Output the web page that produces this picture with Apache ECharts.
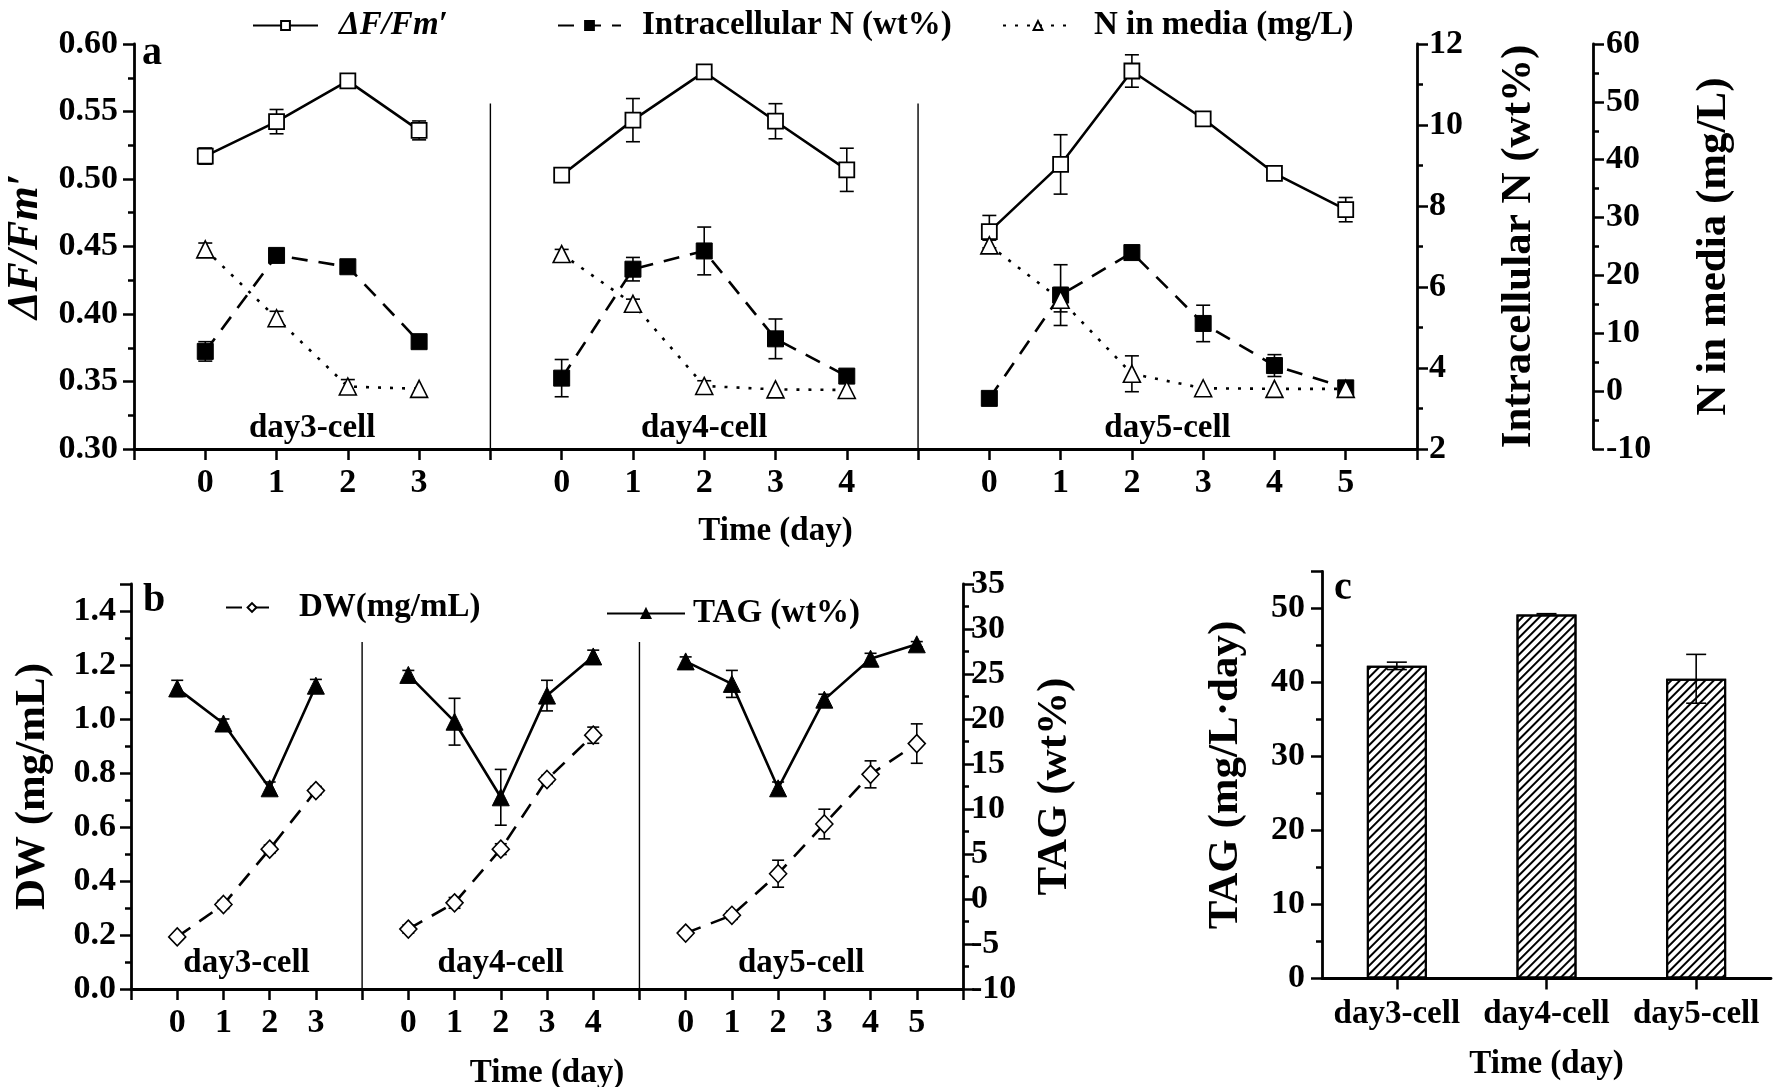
<!DOCTYPE html>
<html>
<head>
<meta charset="utf-8">
<title>Nitrogen, ΔF/Fm′, DW and TAG</title>
<script src="https://cdn.jsdelivr.net/npm/echarts@6/dist/echarts.min.js"></script>
<style>
html, body { margin: 0; padding: 0; background: #fff; }
#main { width: 1773px; height: 1087px; }
</style>
</head>
<body>
<div id="main"></div>
<script>
// shared day axis: three groups, one empty slot between them
const xPos = [1, 2, 3, 4, 6, 7, 8, 9, 10, 12, 13, 14, 15, 16, 17];
const xTickLabels = ['', '0', '1', '2', '3', '', '0', '1', '2', '3', '4', '', '0', '1', '2', '3', '4', '5', ''];
const groupNames = ['day3-cell', 'day4-cell', 'day5-cell'];
const groupCenters = [2.5, 8, 14.5];
const separators = [5, 11];

// panel a
const fvfm = [0.517, 0.5425, 0.5727, 0.536, 0.5028, 0.5436, 0.5793, 0.5428, 0.5068, 0.461, 0.5108, 0.580, 0.5446, 0.5042, 0.4773];
const fvfmErr = [0.006, 0.009, 0.004, 0.007, 0.003, 0.016, 0.003, 0.013, 0.016, 0.012, 0.022, 0.012, 0.002, 0.003, 0.009];
const intraN = [4.41, 6.78, 6.50, 4.65, 3.75, 6.44, 6.89, 4.72, 3.80, 3.25, 5.80, 6.85, 5.10, 4.06, 3.51];
const intraNErr = [0.24, 0.1, 0.08, 0.1, 0.46, 0.29, 0.59, 0.49, 0.1, 0.05, 0.75, 0.12, 0.45, 0.27, 0.1];
const nMedia = [24.5, 12.6, 0.8, 0.4, 23.7, 15.1, 0.9, 0.3, 0.2, 25.2, 15.8, 3.0, 0.5, 0.4, 0.4];
const nMediaErr = [1.1, 1.2, 1.2, 0, 0.8, 0.8, 0.9, 0, 0, 0.9, 2.1, 3.1, 0, 0, 1.0];

// panel b
const dw = [0.193, 0.313, 0.518, 0.735, 0.222, 0.319, 0.518, 0.776, 0.940, 0.207, 0.273, 0.427, 0.611, 0.795, 0.909];
const dwErr = [0.01, 0.015, 0.015, 0.015, 0.015, 0.02, 0.02, 0.015, 0.03, 0.01, 0.015, 0.05, 0.055, 0.05, 0.073];
const tag = [23.4, 19.5, 12.3, 23.7, 24.9, 19.7, 11.3, 22.6, 26.95, 26.4, 23.9, 12.3, 22.15, 26.7, 28.3];
const tagErr = [0.9, 0.5, 0.7, 0.7, 0.5, 2.6, 3.1, 1.7, 0.7, 0.5, 1.5, 0.7, 0.6, 0.6, 0.3];

// panel c
const cCats = ['day3-cell', 'day4-cell', 'day5-cell'];
const tagProd = [42.25, 49.2, 40.5];
const tagProdErr = [0.5, 0.1, 3.3];

const FONT = '"Times New Roman", "Liberation Serif", serif';

// line data with a break between groups
function withGaps(vals) {
  const out = [];
  xPos.forEach((x, i) => {
    if (i > 0 && x - xPos[i - 1] > 1) out.push([x - 1, '-']);
    out.push([x, vals[i]]);
  });
  return out;
}
function errData(vals, errs) {
  const out = [];
  xPos.forEach((x, i) => {
    if (errs[i] > 0) out.push([x, vals[i] - errs[i], vals[i] + errs[i]]);
  });
  return out;
}
// vertical segment with caps (error bars and group separators)
function vSeg(cap, lw) {
  return function (params, api) {
    const x = api.value(0);
    const top = api.coord([x, api.value(2)]);
    const bot = api.coord([x, api.value(1)]);
    const st = { stroke: '#000', lineWidth: lw };
    const kids = [{ type: 'line', shape: { x1: top[0], y1: top[1], x2: bot[0], y2: bot[1] }, style: st }];
    if (cap > 0) {
      kids.push({ type: 'line', shape: { x1: top[0] - cap, y1: top[1], x2: top[0] + cap, y2: top[1] }, style: st });
      kids.push({ type: 'line', shape: { x1: bot[0] - cap, y1: bot[1], x2: bot[0] + cap, y2: bot[1] }, style: st });
    }
    return { type: 'group', children: kids };
  };
}
// group captions inside the plot
function groupText(params, api) {
  const p = api.coord([api.value(0), api.value(1)]);
  return {
    type: 'text', x: p[0], y: p[1],
    style: { text: groupNames[params.dataIndex], font: 'bold 33px ' + FONT, fill: '#000', align: 'center', verticalAlign: 'middle' }
  };
}

const tickLbl = { fontFamily: FONT, fontWeight: 'bold', fontSize: 34, color: '#000' };
const axLine = { show: true, lineStyle: { color: '#000', width: 2.8 } };
const axTick = { show: true, length: 11, lineStyle: { color: '#000', width: 2.5 } };
const minor = { show: true, splitNumber: 2, length: 6, lineStyle: { color: '#000', width: 2.5 } };
const yName = { fontFamily: FONT, fontWeight: 'bold', fontSize: 43, color: '#000' };
const xName = { fontFamily: FONT, fontWeight: 'bold', fontSize: 33, color: '#000' };

function dayAxis(grid, gap) {
  return {
    type: 'value', gridIndex: grid, min: 0, max: 18, interval: 1,
    name: 'Time (day)', nameLocation: 'middle', nameGap: gap, nameTextStyle: xName,
    axisLine: Object.assign({ onZero: false }, axLine), axisTick: axTick, splitLine: { show: false },
    axisLabel: Object.assign({ margin: 17, formatter: v => xTickLabels[v] || '' }, tickLbl)
  };
}
function yAx(o) {
  return Object.assign({
    type: 'value', nameLocation: 'middle', nameRotate: 90, nameTextStyle: yName,
    axisLine: Object.assign({ onZero: false }, axLine), axisTick: axTick, minorTick: minor,
    splitLine: { show: false }, minorSplitLine: { show: false }
  }, o);
}

const legendText = {
  fontFamily: FONT, fontWeight: 'bold', fontSize: 33, color: '#000',
  rich: {
    sp: { width: 16 },
    sp2: { width: 3 },
    t: { fontFamily: FONT, fontWeight: 'bold', fontSize: 33, color: '#000' },
    it: { fontFamily: FONT, fontWeight: 'bold', fontStyle: 'italic', fontSize: 33, color: '#000' }
  }
};
function leg(name, left, top, w, sp, italic) {
  return {
    data: [name], left: left, top: top, padding: 0, itemWidth: w, itemHeight: 11,
    selectedMode: false, textStyle: legendText,
    formatter: n => '{' + sp + '|}' + (italic ? '{it|' + n + '}' : '{t|' + n + '}')
  };
}

const chart = echarts.init(document.getElementById('main'));
chart.setOption({
  backgroundColor: '#fff',
  animation: false,
  grid: [
    { left: 134, top: 44, width: 1283, height: 405, outerBoundsMode: 'none' },
    { left: 131, top: 584, width: 832, height: 405, outerBoundsMode: 'none' },
    { left: 1322, top: 571.5, width: 449, height: 407, outerBoundsMode: 'none' }
  ],
  legend: [
    leg('ΔF/Fm′', 252, 9, 65, 'sp', true),
    leg('Intracellular N (wt%)', 557, 9, 63, 'sp', false),
    leg('N in media (mg/L)', 1002, 9, 70, 'sp', false),
    leg('DW(mg/mL)', 225, 591, 52, 'sp', false),
    leg('TAG (wt%)', 606, 597, 78, 'sp2', false)
  ],
  graphic: [
    { type: 'text', left: 142, top: 34, style: { text: 'a', font: 'bold 40px ' + FONT, fill: '#000' } },
    { type: 'text', left: 143, top: 581, style: { text: 'b', font: 'bold 40px ' + FONT, fill: '#000' } },
    { type: 'text', left: 1334, top: 569, style: { text: 'c', font: 'bold 40px ' + FONT, fill: '#000' } }
  ],
  xAxis: [
    dayAxis(0, 66),
    dayAxis(1, 68),
    {
      type: 'category', gridIndex: 2, data: cCats, boundaryGap: true,
      name: 'Time (day)', nameLocation: 'middle', nameGap: 69, nameTextStyle: xName,
      axisLine: axLine, axisTick: Object.assign({ alignWithLabel: true }, axTick),
      axisLabel: Object.assign({ margin: 19, interval: 0 }, tickLbl, { fontSize: 33 })
    }
  ],
  yAxis: [
    yAx({ gridIndex: 0, min: 0.30, max: 0.60, interval: 0.05, name: 'ΔF/Fm′', nameGap: 86,
      nameTextStyle: Object.assign({}, yName, { fontStyle: 'italic', fontSize: 44 }),
      axisLabel: Object.assign({ margin: 16, formatter: v => v.toFixed(2) }, tickLbl) }),
    yAx({ gridIndex: 0, position: 'right', min: 2, max: 12, interval: 2, name: 'Intracellular N (wt%)', nameGap: 80,
      axisLabel: Object.assign({ margin: 12 }, tickLbl) }),
    yAx({ gridIndex: 0, position: 'right', offset: 176, min: -10, max: 60, interval: 10, name: 'N in media (mg/L)', nameGap: 99,
      axisLabel: Object.assign({ margin: 13 }, tickLbl) }),
    yAx({ gridIndex: 1, min: 0, max: 1.5, interval: 0.2, name: 'DW (mg/mL)', nameGap: 77,
      axisLabel: Object.assign({ margin: 15, showMaxLabel: false, formatter: v => v.toFixed(1) }, tickLbl) }),
    yAx({ gridIndex: 1, position: 'right', min: -10, max: 35, interval: 5, name: 'TAG (wt%)', nameGap: 70,
      axisLabel: Object.assign({ margin: 8 }, tickLbl) }),
    yAx({ gridIndex: 2, min: 0, max: 55, interval: 10, name: 'TAG (mg/L·day)', nameGap: 75,
      axisLabel: Object.assign({ margin: 17, showMaxLabel: false }, tickLbl) })
  ],
  series: [
    // separators
    { type: 'custom', xAxisIndex: 0, yAxisIndex: 0, z: 1, silent: true, renderItem: vSeg(0, 1.4),
      data: separators.map(s => [s, 0.30, 0.556]) },
    { type: 'custom', xAxisIndex: 1, yAxisIndex: 3, z: 1, silent: true, renderItem: vSeg(0, 1.4),
      data: separators.map(s => [s, 0, 1.285]) },
    // group captions
    { type: 'custom', xAxisIndex: 0, yAxisIndex: 0, silent: true, renderItem: groupText,
      data: groupCenters.map(c => [c, 0.315]) },
    { type: 'custom', xAxisIndex: 1, yAxisIndex: 3, silent: true, renderItem: groupText,
      data: groupCenters.map(c => [c, 0.096]) },
    // panel a
    { name: 'ΔF/Fm′', type: 'line', xAxisIndex: 0, yAxisIndex: 0, data: withGaps(fvfm), connectNulls: false,
      symbol: 'rect', symbolSize: 15, lineStyle: { color: '#000', width: 2.6 },
      itemStyle: { color: '#fff', borderColor: '#000', borderWidth: 1.8 } },
    { name: 'Intracellular N (wt%)', type: 'line', xAxisIndex: 0, yAxisIndex: 1, data: withGaps(intraN), connectNulls: false,
      symbol: 'rect', symbolSize: 16, lineStyle: { color: '#000', width: 2.6, type: [16, 11] },
      itemStyle: { color: '#000', borderColor: '#000', borderWidth: 1 } },
    { name: 'N in media (mg/L)', type: 'line', xAxisIndex: 0, yAxisIndex: 2, data: withGaps(nMedia), connectNulls: false,
      symbol: 'triangle', symbolSize: 17, lineStyle: { color: '#000', width: 2.6, type: [3, 9] },
      itemStyle: { color: '#fff', borderColor: '#000', borderWidth: 1.6 } },
    { type: 'custom', xAxisIndex: 0, yAxisIndex: 0, z: 3, silent: true, renderItem: vSeg(7, 1.6), data: errData(fvfm, fvfmErr) },
    { type: 'custom', xAxisIndex: 0, yAxisIndex: 1, z: 3, silent: true, renderItem: vSeg(7, 1.6), data: errData(intraN, intraNErr) },
    { type: 'custom', xAxisIndex: 0, yAxisIndex: 2, z: 3, silent: true, renderItem: vSeg(7, 1.6), data: errData(nMedia, nMediaErr) },
    // panel b
    { name: 'DW(mg/mL)', type: 'line', xAxisIndex: 1, yAxisIndex: 3, data: withGaps(dw), connectNulls: false,
      symbol: 'diamond', symbolSize: [17, 18], lineStyle: { color: '#000', width: 2.6, type: [16, 11] },
      itemStyle: { color: '#fff', borderColor: '#000', borderWidth: 1.6 } },
    { name: 'TAG (wt%)', type: 'line', xAxisIndex: 1, yAxisIndex: 4, data: withGaps(tag), connectNulls: false,
      symbol: 'triangle', symbolSize: 17, lineStyle: { color: '#000', width: 2.6 },
      itemStyle: { color: '#000', borderColor: '#000', borderWidth: 1 } },
    { type: 'custom', xAxisIndex: 1, yAxisIndex: 3, z: 3, silent: true, renderItem: vSeg(6, 1.6), data: errData(dw, dwErr) },
    { type: 'custom', xAxisIndex: 1, yAxisIndex: 4, z: 3, silent: true, renderItem: vSeg(6, 1.6), data: errData(tag, tagErr) },
    // panel c
    { type: 'bar', xAxisIndex: 2, yAxisIndex: 5, data: tagProd, barWidth: 60,
      itemStyle: { color: '#fff', borderColor: '#000', borderWidth: 2,
        decal: { symbol: 'rect', color: '#000', backgroundColor: null, dashArrayX: [1, 0], dashArrayY: [1.8, 3.6], rotation: -Math.PI / 4 } } },
    { type: 'custom', xAxisIndex: 2, yAxisIndex: 5, z: 3, silent: true, renderItem: vSeg(10, 1.6),
      data: tagProd.map((v, i) => [i, v - tagProdErr[i], v + tagProdErr[i]]) }
  ]
});
</script>
</body>
</html>
